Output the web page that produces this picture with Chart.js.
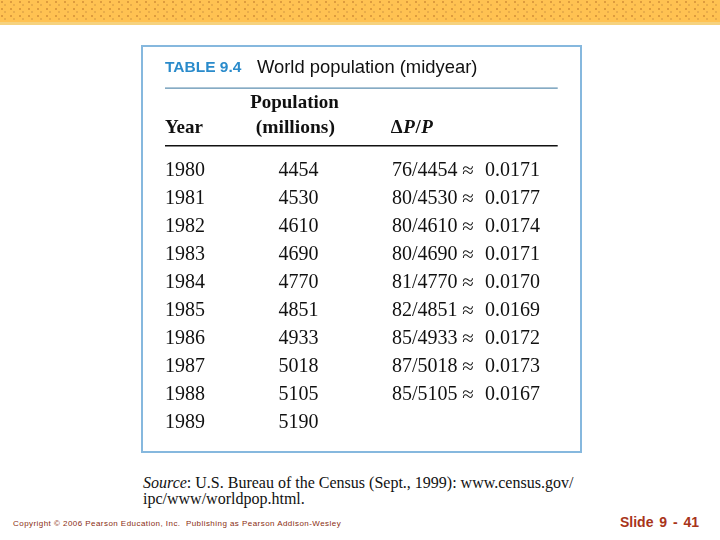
<!DOCTYPE html>
<html><head><meta charset="utf-8">
<script src="https://cdn.jsdelivr.net/npm/chart.js@4/dist/chart.umd.min.js"></script>
<style>
html,body{margin:0;padding:0;background:#fff;width:720px;height:540px;overflow:hidden;position:relative;font-family:"Liberation Serif",serif;}
#banner{position:absolute;left:0;top:0;width:720px;height:22px;background-color:#FFC252;
background-image:radial-gradient(circle at 2px 2px,#DE9C3E 1px,transparent 1.4px),radial-gradient(circle at 5px 5px,#E8AC4A 0.8px,transparent 1.2px);background-size:9px 7px,9px 7px;}
#strip{position:absolute;left:0;top:22px;width:720px;height:3px;background:#F6D27E;}
#box{position:absolute;left:141px;top:45px;width:437px;height:404px;border:2px solid #86B8DE;}
#wrap{position:absolute;left:141px;top:45px;width:440px;height:408px;}
#source{position:absolute;left:143px;top:475px;font-size:16px;line-height:16px;color:#111;font-family:"Liberation Serif",serif;}
#copy{position:absolute;left:13px;top:519px;font-size:8px;color:#8A2E12;font-family:"Liberation Sans",sans-serif;letter-spacing:0.45px;}
#slide{position:absolute;left:620px;top:514px;font-size:14px;font-weight:bold;color:#A8341A;font-family:"Liberation Sans",sans-serif;word-spacing:2px;}
</style></head>
<body>
<div id="banner"></div><div id="strip"></div>
<div id="box"></div>
<div id="wrap"><canvas id="c" width="440" height="408"></canvas></div>
<div id="source"><i>Source</i>: U.S. Bureau of the Census (Sept., 1999): www.census.gov/<br>ipc/www/worldpop.html.</div>
<div id="copy">Copyright © 2006 Pearson Education, Inc.&nbsp; Publishing as Pearson Addison-Wesley</div>
<div id="slide">Slide 9 - 41</div>
<script>
const years = ['1980','1981','1982','1983','1984','1985','1986','1987','1988','1989'];
const population = [4454,4530,4610,4690,4770,4851,4933,5018,5105,5190];
const deltaP = [76,80,80,80,81,82,85,87,85,null];
const ratio = ['0.0171','0.0177','0.0174','0.0171','0.0170','0.0169','0.0172','0.0173','0.0167',null];
const tableNumber = 'TABLE 9.4';
const tableTitle = 'World population (midyear)';

const rowIdx = years.map((_, i) => i);
const tablePlugin = {
  id: 'tableText',
  afterDatasetsDraw(chart) {
    const ctx = chart.ctx, xs = chart.scales.x, ys = chart.scales.y;
    const X = v => xs.getPixelForValue(v), Y = v => ys.getPixelForValue(v);
    ctx.save();
    ctx.textBaseline = 'middle';
    ctx.textAlign = 'left';
    // title
    ctx.font = 'bold 15.5px "Liberation Sans", sans-serif';
    ctx.fillStyle = '#2A8BCB';
    ctx.fillText(tableNumber, X(0), Y(-3.68));
    ctx.font = '18.4px "Liberation Sans", sans-serif';
    ctx.fillStyle = '#111';
    ctx.fillText(tableTitle, X(0.81), Y(-3.68));
    // rules
    ctx.strokeStyle = '#5E8FB0'; ctx.lineWidth = 1.3;
    ctx.beginPath(); ctx.moveTo(X(0), Y(-2.96)); ctx.lineTo(X(3.46), Y(-2.96)); ctx.stroke();
    ctx.strokeStyle = '#111'; ctx.lineWidth = 1.5;
    ctx.beginPath(); ctx.moveTo(X(0), Y(-0.9)); ctx.lineTo(X(3.46), Y(-0.9)); ctx.stroke();
    // headers
    ctx.fillStyle = '#111';
    ctx.font = 'bold 19px "Liberation Serif", serif';
    ctx.fillText('Year', X(0), Y(-1.55));
    ctx.fillText('Population', X(0.75), Y(-2.43));
    ctx.font = 'bold 19.5px "Liberation Serif", serif';
    ctx.fillText('(millions)', X(0.8), Y(-1.55));
    let hx = X(1.99);
    const parts = [['Δ','bold'],['P','italic bold'],['/','bold'],['P','italic bold']];
    parts.forEach(([t, st]) => { ctx.font = st + ' 19px "Liberation Serif", serif'; ctx.fillText(t, hx, Y(-1.55)); hx += ctx.measureText(t).width + 0.5; });
    // body
    ctx.font = '20px "Liberation Serif", serif';
    rowIdx.forEach(i => {
      const y = Y(i);
      ctx.fillText(years[i], X(0), y);
      ctx.fillText(String(population[i]), X(1), y);
      if (deltaP[i] !== null) {
        const frac = deltaP[i] + '/' + population[i];
        ctx.fillText(frac, X(2), y);
        ctx.font = '21px "Liberation Serif", serif';
        ctx.fillText('≈', X(2.62), y);
        ctx.font = '20px "Liberation Serif", serif';
        ctx.fillText(ratio[i], X(2.82), y);
      }
    });
    ctx.restore();
  }
};

new Chart(document.getElementById('c'), {
  type: 'scatter',
  data: { datasets: [{ data: rowIdx.map(i => ({x: 0, y: i})), pointRadius: 0, showLine: false }] },
  options: {
    responsive: false, animation: false,
    layout: { padding: { left: 24, right: 189, top: 126, bottom: 30 } },
    scales: {
      x: { type: 'linear', min: 0, max: 2, display: false },
      y: { type: 'linear', min: 0, max: 9, reverse: true, display: false }
    },
    plugins: { legend: { display: false }, tooltip: { enabled: false } }
  },
  plugins: [tablePlugin]
});
</script>
</body></html>
